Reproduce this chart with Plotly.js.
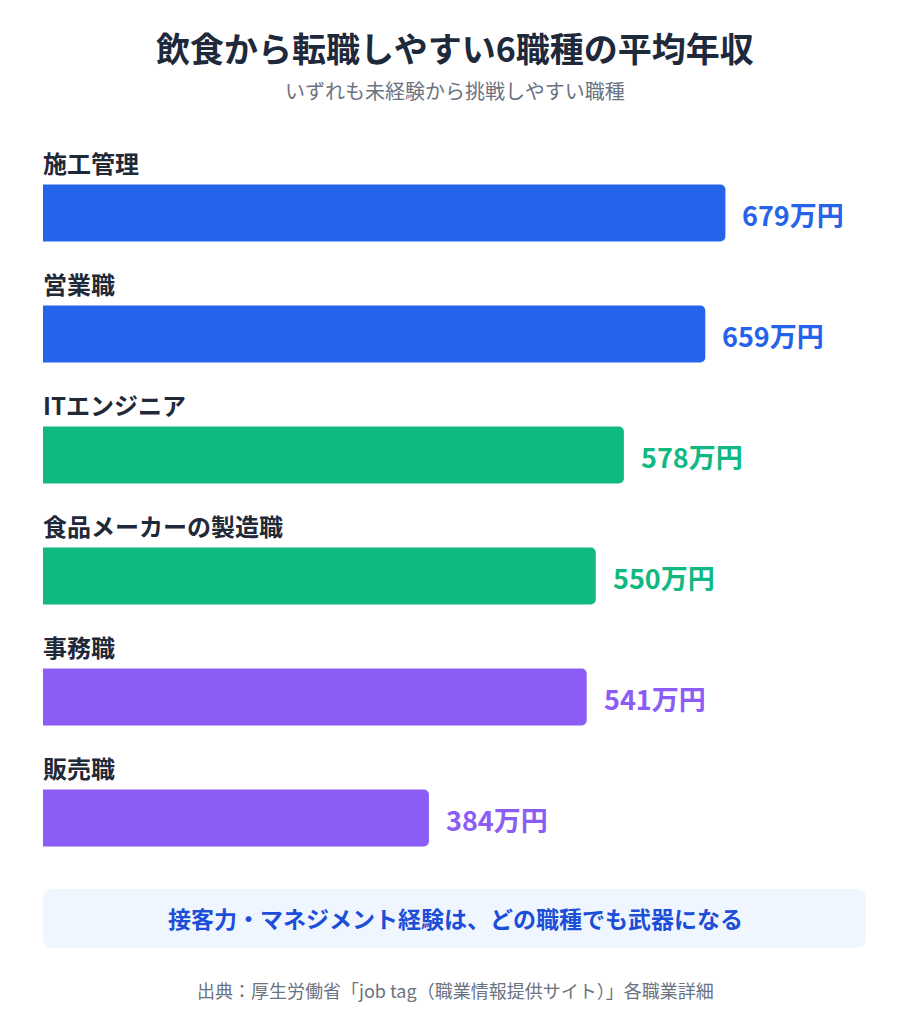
<!DOCTYPE html>
<html>
<head>
<meta charset="utf-8">
<script src="https://cdn.plot.ly/plotly-3.0.1.min.js"></script>
<style>
  html, body { margin: 0; padding: 0; background: #fff; }
  #chart { width: 910px; height: 1024px; }
</style>
</head>
<body>
<div id="chart"></div>
<script>
  // 飲食から転職しやすい6職種の平均年収 (万円)
  const JOBS = ["施工管理", "営業職", "ITエンジニア", "食品メーカーの製造職", "事務職", "販売職"];
  const SALARY = [679, 659, 578, 550, 541, 384];
  const COLORS = ["#2563EB", "#2563EB", "#10B981", "#10B981", "#8B5CF6", "#8B5CF6"];

  const TITLE = "飲食から転職しやすい6職種の平均年収";
  const SUBTITLE = "いずれも未経験から挑戦しやすい職種";
  const NOTE = "接客力・マネジメント経験は、どの職種でも武器になる";
  const SOURCE = "出典：厚生労働省「job tag（職業情報提供サイト）」各職業詳細";

  const FONT = "'Noto Sans CJK JP', 'Noto Sans', sans-serif";
  const DARK = "#1F2937";
  const MUTED = "#6B7280";

  const W = 910, H = 1024;
  // figure has zero margins, so paper coords map straight to pixels
  const py = (y) => 1 - y / H;

  const trace = {
    type: "bar", orientation: "h",
    x: SALARY, y: JOBS,
    marker: { color: COLORS, cornerradius: 5 },
    width: 0.47,
    hoverinfo: "skip",
  };

  const annotations = [];
  JOBS.forEach((name, i) => {
    annotations.push({
      x: 0, y: name, xref: "x", yref: "y", xanchor: "left", yanchor: "middle",
      xshift: -2, yshift: 51, showarrow: false, text: "<b>" + name + "</b>",
      font: { family: FONT, size: 24, color: DARK },
    });
    annotations.push({
      x: SALARY[i], y: name, xref: "x", yref: "y", xanchor: "left", yanchor: "middle",
      xshift: 15, yshift: -1, showarrow: false, text: "<b>" + SALARY[i] + "万円</b>",
      font: { family: FONT, size: 27, color: COLORS[i] },
    });
  });

  const paperText = (y, text, size, color) => ({
    x: 0.5, y: py(y), xref: "paper", yref: "paper", xanchor: "center", yanchor: "middle",
    showarrow: false, text, font: { family: FONT, size, color },
  });
  annotations.push(
    paperText(47, "<b>" + TITLE + "</b>", 34, "#1E293B"),
    paperText(90, SUBTITLE, 20, MUTED),
    paperText(918, "<b>" + NOTE + "</b>", 23, "#1D4ED8"),
    paperText(990, SOURCE, 18, MUTED)
  );

  // rounded note box, built in pixels then converted to paper units
  const X0 = 43, X1 = 866, Y0 = 889, Y1 = 948, R = 10;
  const P = (x, y) => (x / W) + "," + (1 - y / H);
  const box = [
    "M", P(X0 + R, Y0), "L", P(X1 - R, Y0), "Q", P(X1, Y0), P(X1, Y0 + R),
    "L", P(X1, Y1 - R), "Q", P(X1, Y1), P(X1 - R, Y1),
    "L", P(X0 + R, Y1), "Q", P(X0, Y1), P(X0, Y1 - R),
    "L", P(X0, Y0 + R), "Q", P(X0, Y0), P(X0 + R, Y0), "Z",
  ].join(" ");

  const layout = {
    width: W, height: H,
    margin: { l: 0, r: 0, t: 0, b: 0 },
    paper_bgcolor: "#FFFFFF", plot_bgcolor: "rgba(0,0,0,0)",
    showlegend: false,
    font: { family: FONT },
    xaxis: {
      range: [-43 / 1.005, (W - 43) / 1.005],
      visible: false, fixedrange: true,
    },
    yaxis: {
      type: "category", range: [5.5, -0.5],
      domain: [1 - 878.5 / H, 1 - 152.5 / H],
      visible: false, fixedrange: true,
    },
    shapes: [{
      type: "path", xref: "paper", yref: "paper", layer: "below",
      path: box, fillcolor: "#EFF6FF", line: { width: 0 },
    }],
    annotations,
  };

  Plotly.newPlot("chart", [trace], layout, { displayModeBar: false, staticPlot: true });
</script>
</body>
</html>
